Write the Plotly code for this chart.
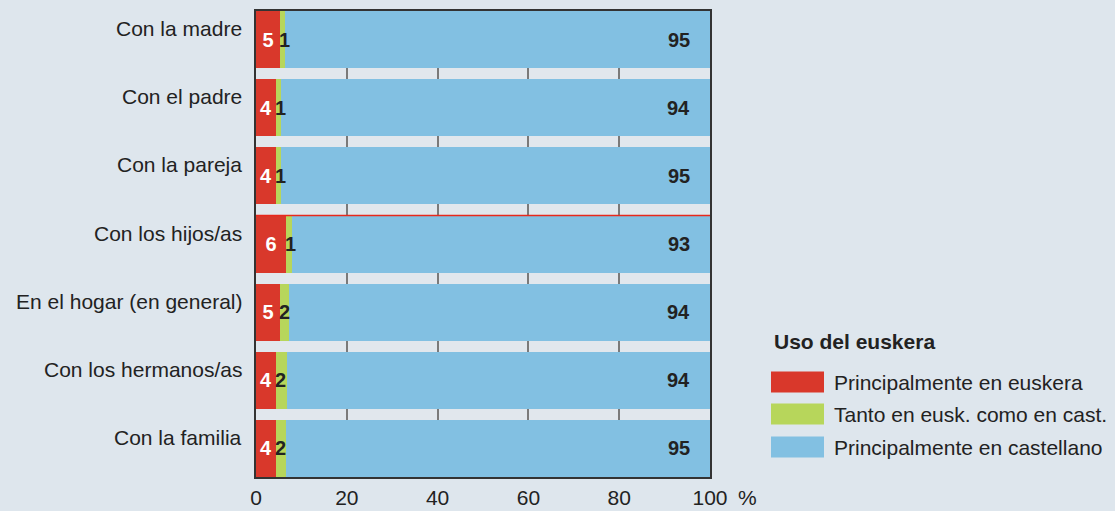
import plotly.graph_objects as go

categories = ["Con la madre", "Con el padre", "Con la pareja", "Con los hijos/as",
              "En el hogar (en general)", "Con los hermanos/as", "Con la familia"]
# segment widths (%)
euskera = [5.3, 4.4, 4.4, 6.6, 5.3, 4.4, 4.4]
ambos = [1.1, 1.1, 1.1, 1.3, 2.0, 2.4, 2.2]
castellano = [93.6, 94.5, 94.5, 92.1, 92.7, 93.2, 93.4]
# printed labels
lab_eusk = [5, 4, 4, 6, 5, 4, 4]
lab_ambos = [1, 1, 1, 1, 2, 2, 2]
lab_cast = [95, 94, 95, 93, 94, 94, 95]
series_names = ["Principalmente en euskera", "Tanto en eusk. como en cast.", "Principalmente en castellano"]
legend_title = "Uso del euskera"
x_ticks = [0, 20, 40, 60, 80, 100]

colors = ["#d9382b", "#b7d65b", "#82c0e2"]
bg = "#dee6ed"
FONT = "Liberation Sans, Arial, sans-serif"
txt = "#222222"
FS = 21
BFS = 20

fig = go.Figure()
fig.add_trace(go.Bar(y=categories, x=euskera, orientation="h", name=series_names[0],
                     marker=dict(color=colors[0], line=dict(width=0)),
                     text=[str(v) for v in lab_eusk], textposition="inside",
                     insidetextanchor="middle",
                     textfont=dict(family=FONT, size=BFS, color="white", weight="bold")))
fig.add_trace(go.Bar(y=categories, x=ambos, orientation="h", name=series_names[1],
                     marker=dict(color=colors[1], line=dict(width=0))))
fig.add_trace(go.Bar(y=categories, x=castellano, orientation="h", name=series_names[2],
                     marker=dict(color=colors[2], line=dict(width=0))))

gap = 0.162
half = (1 - gap) / 2
annotations = []
for i, c in enumerate(categories):
    # category label (sits slightly above the bar centre, as in the original)
    annotations.append(dict(x=0, y=c, xref="paper", yref="y", text=c, showarrow=False,
                            xanchor="right", xshift=-12, yshift=11,
                            font=dict(family=FONT, size=FS, color=txt)))
    annotations.append(dict(x=euskera[i], y=c, xref="x", yref="y", text=f"<b>{lab_ambos[i]}</b>",
                            showarrow=False, xanchor="left", xshift=-3,
                            font=dict(family=FONT, size=BFS, color=txt)))
    annotations.append(dict(x=euskera[i] + ambos[i] + castellano[i], y=c, xref="x", yref="y",
                            text=f"<b>{lab_cast[i]}</b>", showarrow=False, xanchor="right",
                            xshift=-18, font=dict(family=FONT, size=BFS, color=txt)))
annotations.append(dict(x=100, y=0, xref="x", yref="paper", text="%", showarrow=False,
                        xanchor="left", yanchor="top", xshift=26, yshift=-7,
                        font=dict(family=FONT, size=FS, color=txt)))

# legend drawn manually
shapes = []
leg_x0 = 771
leg_rows = [382, 414, 447]
W, H = 1115, 511
ml, mr, mt, mb = 256, 405, 11, 34
pw, ph = W - ml - mr, H - mt - mb
def px(xp):
    return (xp - ml) / pw
def py(yp):
    return (H - mb - yp) / ph
annotations.append(dict(x=px(772), y=py(341), xref="paper", yref="paper", text=f"<b>{legend_title}</b>",
                        showarrow=False, xanchor="left", yanchor="middle",
                        font=dict(family=FONT, size=FS, color=txt)))
for name, col, yc in zip(series_names, colors, leg_rows):
    shapes.append(dict(type="rect", xref="paper", yref="paper", x0=px(leg_x0), x1=px(leg_x0 + 53),
                       y0=py(yc - 10.5), y1=py(yc + 10.5), fillcolor=col, line=dict(width=0)))
    annotations.append(dict(x=px(832), y=py(yc), xref="paper", yref="paper", text=name,
                            showarrow=False, xanchor="left", yanchor="middle",
                            font=dict(family=FONT, size=FS, color=txt)))

# red line at top of "Con los hijos/as" bar
hij = categories.index("Con los hijos/as")
shapes.append(dict(type="line", xref="x", yref="y", x0=0, x1=100, y0=hij - half, y1=hij - half,
                   line=dict(color="#e8281c", width=1.5), layer="above"))

fig.update_layout(
    barmode="stack", bargap=gap, width=W, height=H,
    margin=dict(l=ml, r=mr, t=mt, b=mb, pad=0, autoexpand=False),
    paper_bgcolor=bg, plot_bgcolor="#e1e7ed",
    showlegend=False,
    font=dict(family=FONT, size=FS, color=txt),
    annotations=annotations, shapes=shapes,
    uniformtext=dict(mode="show", minsize=10),
)
fig.update_xaxes(range=[0, 100], tickvals=x_ticks, ticktext=[str(t) for t in x_ticks],
                 showgrid=True, gridcolor="#7a7a7a", gridwidth=1.5, zeroline=False,
                 showline=True, linecolor="#333333", linewidth=1.5, mirror=True, automargin=False,
                 ticks="", ticklabelstandoff=1, tickfont=dict(family=FONT, size=FS, color=txt))
fig.update_yaxes(range=[len(categories) - 1 + half, -half], showgrid=False, zeroline=False,
                 showline=True, linecolor="#333333", linewidth=1.5, mirror=True, automargin=False,
                 showticklabels=False, ticks="")

fig.write_html("out.html", config={"displayModeBar": False},
               post_script="document.body.style.margin='0';document.body.style.background='#dee6ed';")
